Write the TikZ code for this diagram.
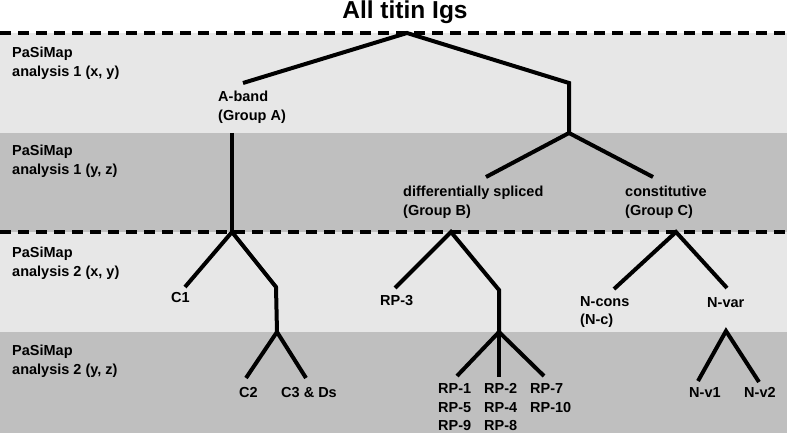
\documentclass[tikz,border=0pt]{standalone}
\usepackage{fontspec}
\setmainfont{Liberation Sans}
\begin{document}
\begin{tikzpicture}[x=1pt,y=-1pt,
  lbl/.style={inner sep=0pt,anchor=base west,font=\bfseries\fontsize{14.5}{17}\selectfont},
  branch/.style={line width=4pt,black,line join=miter},
  sep/.style={line width=3.6pt,black,dash pattern=on 11pt off 7pt},
]
\definecolor{bandlight}{RGB}{231,231,231}
\definecolor{banddark}{RGB}{191,191,191}
\useasboundingbox (0,0) rectangle (787,433);
\fill[white] (0,0) rectangle (787,33);
\fill[bandlight] (0,33) rectangle (787,133);
\fill[banddark] (0,133) rectangle (787,232);
\fill[bandlight] (0,232) rectangle (787,332);
\fill[banddark] (0,332) rectangle (787,433);

% title
\node[inner sep=0pt,anchor=base,font=\bfseries\fontsize{24.5}{28}\selectfont] (title) at (405,19) {All titin Igs};

% separators
\coordinate (s1l) at (0,33); \coordinate (s1r) at (787,33);
\coordinate (s2l) at (0,232); \coordinate (s2r) at (787,232);
\draw[sep] (s1l) -- (s1r);
\draw[sep] (s2l) -- (s2r);

% band labels
\node[lbl] (b1a) at (12,58) {PaSiMap};
\node[lbl] (b1b) at (12,77) {analysis 1 (x, y)};
\node[lbl] (b2a) at (12,155) {PaSiMap};
\node[lbl] (b2b) at (12,174) {analysis 1 (y, z)};
\node[lbl] (b3a) at (12,257) {PaSiMap};
\node[lbl] (b3b) at (12,276) {analysis 2 (x, y)};
\node[lbl] (b4a) at (12,355) {PaSiMap};
\node[lbl] (b4b) at (12,374) {analysis 2 (y, z)};

% tree coordinates
\coordinate (root) at (407,33);
\coordinate (Ae) at (243,83);
\coordinate (Rk) at (569,83);
\coordinate (Rj) at (569,133);
\coordinate (At) at (232,133);
\coordinate (Aj) at (232,232);
\coordinate (Be) at (486,177);
\coordinate (Ce) at (653,177);
\coordinate (Bj) at (451,232);
\coordinate (Cj) at (676,232);
\coordinate (C1e) at (185,287);
\coordinate (Lk) at (276,287);
\coordinate (Lj) at (277,332);
\coordinate (C2e) at (246,378);
\coordinate (C3e) at (306,378);
\coordinate (RP3e) at (395,288);
\coordinate (Mk) at (499,290);
\coordinate (Mj) at (499,332);
\coordinate (RPa) at (457,376);
\coordinate (RPb) at (499,377);
\coordinate (RPc) at (544,376);
\coordinate (Nce) at (614,289);
\coordinate (Nve) at (727,288);
\coordinate (Nvj) at (726,331);
\coordinate (Nv1e) at (698,381);
\coordinate (Nv2e) at (759,382);

% branches
\draw[branch] (Ae) -- (root) -- (Rk) -- (Rj);
\draw[branch] (At) -- (Aj);
\draw[branch] (Be) -- (Rj) -- (Ce);
\draw[branch] (C1e) -- (Aj) -- (Lk) -- (Lj);
\draw[branch] (C2e) -- (Lj) -- (C3e);
\draw[branch] (RP3e) -- (Bj) -- (Mk) -- (Mj);
\draw[branch] (RPa) -- (Mj) -- (RPc);
\draw[branch] (Mj) -- (RPb);
\draw[branch] (Nce) -- (Cj) -- (Nve);
\draw[branch] (Nv1e) -- (Nvj) -- (Nv2e);

% tree labels
\node[lbl] (la1) at (218,102) {A-band};
\node[lbl] (la2) at (218,121) {(Group A)};
\node[lbl] (lb1) at (403,196) {differentially spliced};
\node[lbl] (lb2) at (403,215) {(Group B)};
\node[lbl] (lc1) at (625,196) {constitutive};
\node[lbl] (lc2) at (625,215) {(Group C)};
\node[lbl] (lC1) at (171,302) {C1};
\node[lbl] (lRP3) at (380,305) {RP-3};
\node[lbl] (lNc1) at (580,306) {N-cons};
\node[lbl] (lNc2) at (580,324) {(N-c)};
\node[lbl] (lNv) at (707,307) {N-var};
\node[lbl] (lC2) at (239,397) {C2};
\node[lbl] (lC3) at (281,397) {C3 \& Ds};
\node[lbl] (r11) at (438,393) {RP-1};
\node[lbl] (r12) at (438,412) {RP-5};
\node[lbl] (r13) at (438,430) {RP-9};
\node[lbl] (r21) at (484,393) {RP-2};
\node[lbl] (r22) at (484,412) {RP-4};
\node[lbl] (r23) at (484,430) {RP-8};
\node[lbl] (r31) at (530,393) {RP-7};
\node[lbl] (r32) at (530,412) {RP-10};
\node[lbl] (lNv1) at (689,397) {N-v1};
\node[lbl] (lNv2) at (744,397) {N-v2};
\end{tikzpicture}
\end{document}
